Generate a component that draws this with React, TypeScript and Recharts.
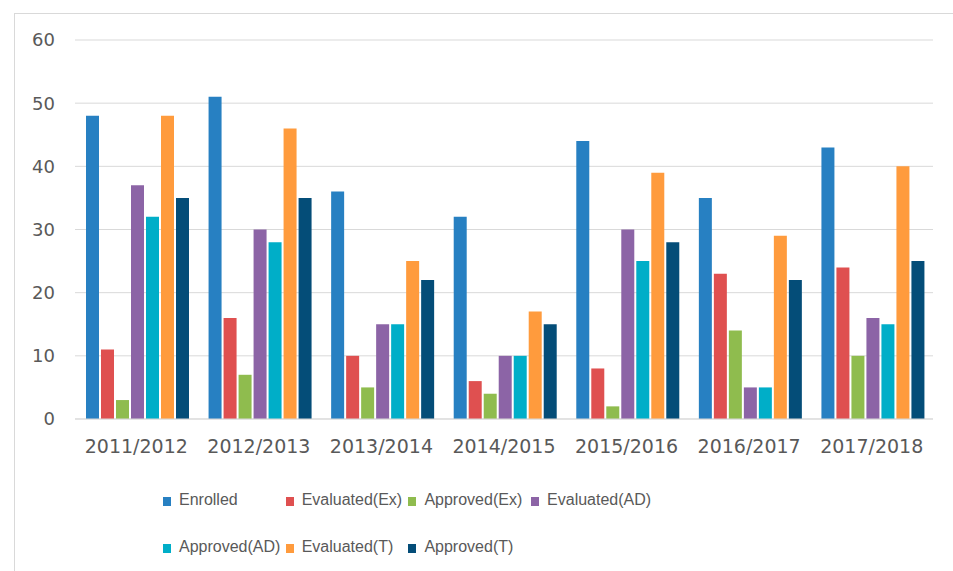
import { BarChart, Bar, XAxis, YAxis, CartesianGrid } from "recharts";

const years = ["2011/2012", "2012/2013", "2013/2014", "2014/2015", "2015/2016", "2016/2017", "2017/2018"];

const enrolled = [48, 51, 36, 32, 44, 35, 43];
const evaluatedEx = [11, 16, 10, 6, 8, 23, 24];
const approvedEx = [3, 7, 5, 4, 2, 14, 10];
const evaluatedAD = [37, 30, 15, 10, 30, 5, 16];
const approvedAD = [32, 28, 15, 10, 25, 5, 15];
const evaluatedT = [48, 46, 25, 17, 39, 29, 40];
const approvedT = [35, 35, 22, 15, 28, 22, 25];

const yTicks = [0, 10, 20, 30, 40, 50, 60];

const series = [
  { key: "enrolled", name: "Enrolled", color: "#2780c2", values: enrolled },
  { key: "evaluatedEx", name: "Evaluated(Ex)", color: "#df5050", values: evaluatedEx },
  { key: "approvedEx", name: "Approved(Ex)", color: "#8fbc4e", values: approvedEx },
  { key: "evaluatedAD", name: "Evaluated(AD)", color: "#8c64a6", values: evaluatedAD },
  { key: "approvedAD", name: "Approved(AD)", color: "#00aec8", values: approvedAD },
  { key: "evaluatedT", name: "Evaluated(T)", color: "#ff9b3d", values: evaluatedT },
  { key: "approvedT", name: "Approved(T)", color: "#044d78", values: approvedT },
];

const data = years.map((year, i) => {
  const row: Record<string, string | number> = { year };
  series.forEach((s) => {
    row[s.key] = s.values[i];
  });
  return row;
});

const textColor = "#595959";
const gridColor = "#d9d9d9";

export default function App() {
  return (
    <div
      style={{
        position: "fixed",
        left: 0,
        top: 0,
        width: 953,
        height: 571,
        overflow: "hidden",
        background: "#fff",
      }}
    >
      <div
        style={{
          position: "absolute",
          left: 14,
          top: 13,
          width: 960,
          height: 600,
          borderTop: `1px solid ${gridColor}`,
          borderLeft: `1px solid ${gridColor}`,
        }}
      />
      <div style={{ position: "absolute", left: 0, top: 0 }}>
        <BarChart
          width={953}
          height={470}
          data={data}
          margin={{ top: 40, right: 20, left: 0, bottom: 0 }}
          barCategoryGap={11}
          barGap={2}
        >
          <CartesianGrid vertical={false} stroke={gridColor} />
          <XAxis
            dataKey="year"
            height={51}
            tickLine={false}
            tickSize={0}
            tickMargin={21}
            axisLine={{ stroke: gridColor }}
            tick={{ fill: textColor, fontSize: 19, fontFamily: "DejaVu Sans" }}
          />
          <YAxis
            width={75}
            domain={[0, 60]}
            ticks={yTicks}
            axisLine={false}
            tickLine={false}
            tickSize={0}
            tickMargin={20}
            tick={{ fill: textColor, fontSize: 18, fontFamily: "DejaVu Sans" }}
          />
          {series.map((s) => (
            <Bar
              key={s.key}
              dataKey={s.key}
              name={s.name}
              fill={s.color}
              isAnimationActive={false}
            />
          ))}
        </BarChart>
      </div>
      {series.map((s, i) => {
        const col = i < 4 ? i : i - 4;
        const row = i < 4 ? 0 : 1;
        return (
          <div
            key={s.key}
            style={{
              position: "absolute",
              left: 163 + col * 122.7,
              top: 489 + row * 47,
              height: 22,
              display: "flex",
              alignItems: "center",
              fontFamily: "'Liberation Sans', Arial, sans-serif",
              fontSize: 16,
              color: textColor,
              whiteSpace: "nowrap",
            }}
          >
            <span
              style={{
                display: "inline-block",
                width: 8,
                height: 9,
                marginTop: 2,
                marginRight: 8,
                background: s.color,
              }}
            />
            {s.name}
          </div>
        );
      })}
    </div>
  );
}
